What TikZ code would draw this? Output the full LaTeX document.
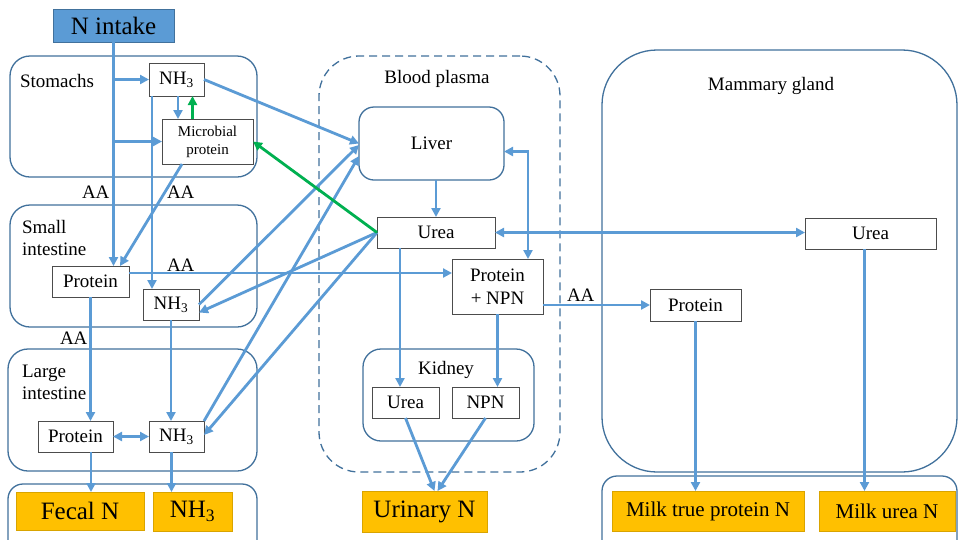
\documentclass[tikz,border=0pt]{standalone}
\usepackage{fontspec}
\setmainfont{Liberation Serif}
\usetikzlibrary{arrows.meta,calc}
\definecolor{lb}{HTML}{5B9BD5}
\definecolor{db}{HTML}{41719C}
\definecolor{og}{HTML}{FFC000}
\definecolor{ogb}{HTML}{D9A400}
\definecolor{gr}{HTML}{00B050}
\begin{document}
\begin{tikzpicture}[x=1pt,y=-1pt,
  every node/.style={font=\fontsize{19}{22}\selectfont, inner sep=0pt, outer sep=0pt},
  cont/.style={draw=db, line width=1.3pt, rounded corners=20pt},
  bx/.style={draw=black!70, line width=0.8pt, fill=white, align=center},
  outb/.style={fill=og, draw=ogb, line width=0.6pt, font=\fontsize{25}{28}\selectfont},
  milk/.style={fill=og, draw=ogb, line width=0.6pt, font=\fontsize{21}{24}\selectfont},
  fl/.style={draw=lb, line width=2.8pt, -{Triangle[length=9pt,width=9pt]}},
  fltwo/.style={draw=lb, line width=2.8pt, {Triangle[length=9pt,width=9pt]}-{Triangle[length=9pt,width=9pt]}},
  gf/.style={draw=gr, line width=2.8pt, -{Triangle[length=9pt,width=9pt]}},
  lbl/.style={anchor=base west},
  clbl/.style={anchor=base}
]
\useasboundingbox (0,0) rectangle (958,539);
\fill[white] (0,0) rectangle (958,539);

% containers
\node[cont, minimum width=247pt, minimum height=121pt] (stom) at (133.5,116.5) {};
\node[cont, minimum width=247pt, minimum height=122pt] (sint) at (133.5,266) {};
\node[cont, minimum width=249pt, minimum height=122pt] (lint) at (132.5,410) {};
\node[cont, rounded corners=15pt, minimum width=249pt, minimum height=76pt] (botl) at (132.5,522) {};
\node[cont, dashed, dash pattern=on 8pt off 5pt, rounded corners=40pt, minimum width=241pt, minimum height=416pt] (blood) at (439.5,264) {};
\node[cont, rounded corners=18pt, minimum width=171pt, minimum height=92pt] (kid) at (448.5,395) {};
\node[cont, rounded corners=55pt, minimum width=355pt, minimum height=422pt] (mam) at (779.5,261) {};
\node[cont, rounded corners=15pt, minimum width=355pt, minimum height=84pt] (botr) at (779.5,518) {};

% container labels
\node[lbl] (tstom) at (20,87) {Stomachs};
\node[lbl] (tsi1) at (22,233) {Small};
\node[lbl] (tsi2) at (22,255) {intestine};
\node[lbl] (tli1) at (22,377) {Large};
\node[lbl] (tli2) at (22,399) {intestine};
\node[clbl] (tblood) at (437,83) {Blood plasma};
\node[clbl] (tmam) at (771,90) {Mammary gland};
\node[clbl] (tkid) at (446,374) {Kidney};

% AA labels
\node[lbl] (aa1) at (82,198) {AA};
\node[lbl] (aa2) at (167,198) {AA};
\node[lbl] (aa3) at (167,271) {AA};
\node[lbl] (aa4) at (60,344) {AA};
\node[lbl] (aa5) at (567,301) {AA};

% boxes
\node[fill=lb, draw=db, line width=0.8pt, minimum width=121pt, minimum height=33pt, font=\fontsize{25}{28}\selectfont] (nin) at (113.5,25.5) {N intake};
\node[bx, minimum width=55pt, minimum height=33pt] (nh3s) at (176.5,79.5) {NH\textsubscript{3}};
\node[bx, minimum width=91pt, minimum height=45pt, font=\fontsize{15}{18}\selectfont] (micro) at (207.5,141.5) {Microbial\\protein};
\node[bx, minimum width=77pt, minimum height=31pt] (protsi) at (90.5,281.5) {Protein};
\node[bx, minimum width=56pt, minimum height=31pt] (nh3si) at (171,304.5) {NH\textsubscript{3}};
\node[bx, minimum width=75pt, minimum height=31pt] (protli) at (75.5,436.5) {Protein};
\node[bx, minimum width=55pt, minimum height=31pt] (nh3li) at (176.5,436.5) {NH\textsubscript{3}};
\node[outb, minimum width=128pt, minimum height=38pt] (fecal) at (80,511) {Fecal N};
\node[outb, minimum width=79pt, minimum height=39pt] (nh3o) at (192.5,511.5) {NH\textsubscript{3}};
\node[bx, draw=db, line width=1.3pt, rounded corners=15pt, minimum width=145pt, minimum height=73pt] (liver) at (431.5,143.5) {Liver};
\node[bx, minimum width=118pt, minimum height=31pt] (ureab) at (436,232.5) {Urea};
\node[bx, minimum width=91pt, minimum height=55pt, font=\fontsize{19}{23}\selectfont] (pnpn) at (497.5,286.5) {Protein\\+ NPN};
\node[bx, minimum width=67pt, minimum height=31pt] (ureak) at (405.5,402.5) {Urea};
\node[bx, minimum width=67pt, minimum height=31pt] (npn) at (485.5,402.5) {NPN};
\node[outb, minimum width=125pt, minimum height=41pt] (urin) at (424.5,511.5) {Urinary N};
\node[bx, minimum width=131pt, minimum height=31pt] (uream) at (870.5,233.5) {Urea};
\node[bx, minimum width=91pt, minimum height=32pt] (protm) at (695.5,305) {Protein};
\node[milk, minimum width=192pt, minimum height=40pt] (milkp) at (708,511) {Milk true protein N};
\node[milk, minimum width=136pt, minimum height=40pt] (milku) at (887,511) {Milk urea N};

% helper coordinates
\coordinate (cb1) at ([xshift=1.5pt]nh3s.south);
\coordinate (cg1) at ([xshift=-15pt]micro.north);
\coordinate (cv2) at ([xshift=3pt]nh3s.south west);
\coordinate (cms) at ([xshift=-25.5pt]micro.south);
\coordinate (cpt) at ([xshift=29.5pt]protsi.north);
\coordinate (ch1) at ([yshift=8.5pt]protsi.east);
\coordinate (clv1) at ([yshift=-1.5pt]liver.west);
\coordinate (clv2) at ([yshift=-12.5pt]liver.west);
\coordinate (cnsi) at ([yshift=-8pt]nh3si.east);
\coordinate (cle) at ([yshift=-8pt]liver.east);
\coordinate (cpn) at ([xshift=30.5pt]pnpn.north);
\coordinate (cuk) at ([xshift=-5.5pt]ureak.north);
\coordinate (cu1) at ([xshift=10pt]urin.north);
\coordinate (cu2) at ([xshift=13pt]urin.north);
\coordinate (cum) at ([xshift=-6pt]uream.south);
\coordinate (cpl) at ([xshift=15.5pt]protli.south);
\coordinate (cnl) at ([xshift=-5pt]nh3li.south);
\coordinate (cnli) at ([yshift=1.5pt]nh3li.east);

% arrows - intake and digestive tract
\draw[fl] (nin.south) -- (nin.south |- protsi.north);
\draw[fl] (nin.south |- nh3s.west) -- (nh3s.west);
\draw[fl] (nin.south |- micro.west) -- (micro.west);
\draw[fl] (cb1) -- (cb1 |- micro.north);
\draw[gf] (cg1) -- (cg1 |- nh3s.south);
\draw[fl] (cv2) -- (cv2 |- nh3si.north);
\draw[fl] (cms) -- (cpt);
\draw[fl] (nh3s.east) -- (liver.west);
\draw[fl] (nh3si.east) -- (clv1);
\draw[fl] (nh3li.north east) -- (clv2);
\draw[fl] (ureab.west) -- (cnsi);
\draw[fl] (ureab.west) -- (cnli);
\draw[gf] (ureab.west) -- (micro.east);
\draw[fl] (ch1) -- (ch1 -| pnpn.west);
\draw[fl] (protsi.south) -- (protsi.south |- protli.north);
\draw[fl] (nh3si.south) -- (nh3si.south |- nh3li.north);
\draw[fltwo] (protli.east) -- (nh3li.west);
\draw[fl] (cpl) -- (cpl |- fecal.north);
\draw[fl] (cnl) -- (cnl |- nh3o.north);

% blood
\draw[fl] (liver.south -| ureab.north) -- (ureab.north);
\draw[fltwo] (cle) -| (cpn);
\draw[fltwo] (ureab.east) -- (ureab.east -| uream.west);
\draw[fl] (protm.west -| pnpn.east) -- (protm.west);
\draw[fl] (cuk |- ureab.south) -- (cuk);
\draw[fl] (pnpn.south) -- (pnpn.south |- npn.north);
\draw[fl] (ureak.south) -- (cu1);
\draw[fl] (npn.south) -- (cu2);

% mammary
\draw[fl] (protm.south) -- (protm.south |- milkp.north);
\draw[fl] (cum) -- (cum |- milku.north);
\end{tikzpicture}
\end{document}
